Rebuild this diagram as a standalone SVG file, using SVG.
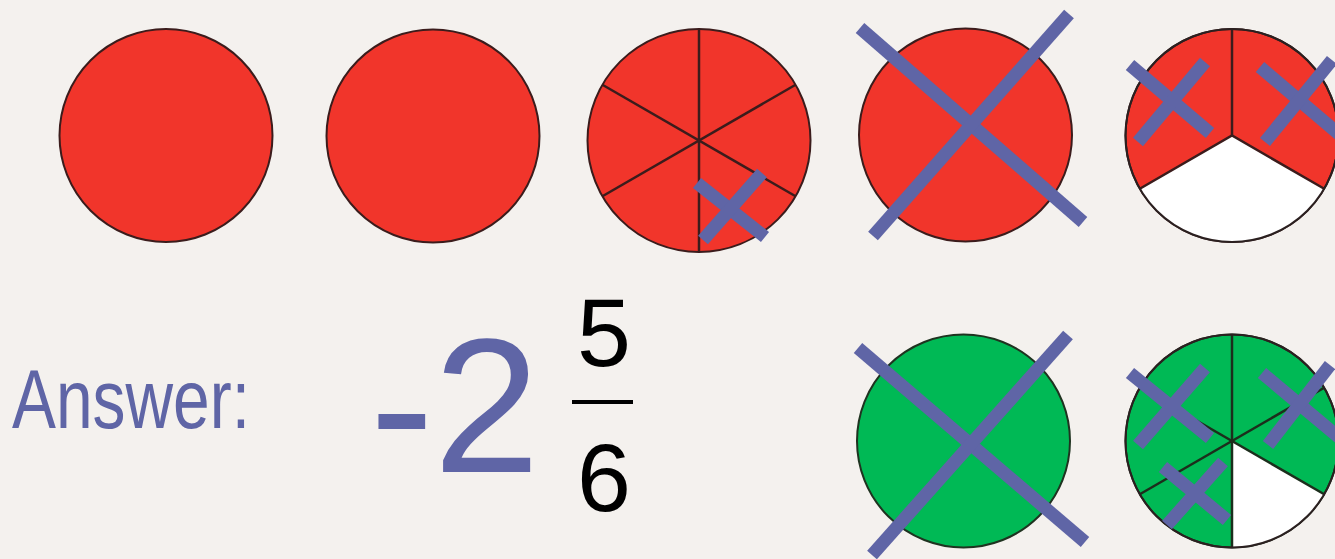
<svg xmlns="http://www.w3.org/2000/svg" width="1335" height="559" viewBox="0 0 1335 559">
<style>
.red{fill:#f1352b;stroke:#3b1c1c;stroke-width:2}
.green{fill:#00b955;stroke:#1f3320;stroke-width:2}
.white{fill:#ffffff;stroke:none}
.ring{fill:none;stroke:#2b2020;stroke-width:2}
.spoke{stroke:#3b1c1c;stroke-width:2.5;fill:none}
.gspoke{stroke:#1c2e1c;stroke-width:2.5;fill:none}
.x{stroke:#5f65a6;stroke-width:13;stroke-linecap:butt;fill:none}
.purple{fill:#5f65a6;font-family:"Liberation Sans",Arial,sans-serif}
.black{fill:#000000;font-family:"Liberation Sans",Arial,sans-serif}
</style>
<rect x="0" y="0" width="1335" height="559" fill="#f4f1ee"/>
<g id="circle1">
<circle class="red" cx="166" cy="135.5" r="106.5"/>
</g>
<g id="circle2">
<circle class="red" cx="433" cy="136" r="106.5"/>
</g>
<g id="circle3">
<circle class="red" cx="699" cy="140.5" r="111.5"/>
<line class="spoke" x1="699" y1="29" x2="699" y2="252"/>
<line class="spoke" x1="602.4" y1="84.75" x2="795.6" y2="196.25"/>
<line class="spoke" x1="602.4" y1="196.25" x2="795.6" y2="84.75"/>
<line class="x" x1="697" y1="183" x2="765" y2="237"/>
<line class="x" x1="762" y1="173" x2="703" y2="240"/>
</g>
<g id="circle4">
<circle class="red" cx="965.5" cy="135" r="106.5"/>
<line class="x" x1="860" y1="28" x2="1083" y2="222"/>
<line class="x" x1="1069" y1="14" x2="873" y2="236"/>
</g>
<g id="circle5">
<circle class="red" cx="1232" cy="135.5" r="106.5"/>
<path class="white" d="M1232,135.5 L1139.8,188.75 A106.5,106.5 0 0 0 1324.2,188.75 Z"/>
<line class="spoke" x1="1232" y1="29" x2="1232" y2="135.5"/>
<polyline class="spoke" points="1139.8,188.75 1232,135.5 1324.2,188.75"/>
<circle class="ring" cx="1232" cy="135.5" r="106.5"/>
<line class="x" x1="1130" y1="65" x2="1210" y2="133"/>
<line class="x" x1="1205" y1="62" x2="1138" y2="142"/>
<line class="x" x1="1260" y1="67" x2="1340" y2="135"/>
<line class="x" x1="1332" y1="60" x2="1265" y2="142"/>
</g>
<g id="answer">
<text class="purple" x="12" y="428" font-size="84" textLength="238" lengthAdjust="spacingAndGlyphs">Answer:</text>
<text class="purple" x="370" y="472" font-size="191">-2</text>
<text class="black" x="604" y="366" font-size="97" text-anchor="middle">5</text>
<line x1="572" y1="402" x2="633" y2="402" stroke="#000" stroke-width="4"/>
<text class="black" x="604" y="511" font-size="97" text-anchor="middle">6</text>
</g>
<g id="circle6">
<circle class="green" cx="963.5" cy="441" r="106.5"/>
<line class="x" x1="858" y1="348" x2="1085" y2="542"/>
<line class="x" x1="1068" y1="335" x2="872" y2="555"/>
</g>
<g id="circle7">
<circle class="green" cx="1232" cy="441" r="106.5"/>
<path class="white" d="M1232,441 L1232,547.5 A106.5,106.5 0 0 0 1324.2,494.25 Z"/>
<line class="gspoke" x1="1232" y1="334.5" x2="1232" y2="547.5"/>
<line class="gspoke" x1="1139.8" y1="387.75" x2="1324.2" y2="494.25"/>
<line class="gspoke" x1="1139.8" y1="494.25" x2="1324.2" y2="387.75"/>
<circle class="ring" cx="1232" cy="441" r="106.5"/>
<line class="x" x1="1130" y1="373" x2="1210" y2="438"/>
<line class="x" x1="1205" y1="368" x2="1138" y2="445"/>
<line class="x" x1="1262" y1="373" x2="1342" y2="440"/>
<line class="x" x1="1330" y1="365" x2="1268" y2="445"/>
<line class="x" x1="1163" y1="467" x2="1227" y2="520"/>
<line class="x" x1="1223" y1="462" x2="1167" y2="525"/>
</g>
</svg>
